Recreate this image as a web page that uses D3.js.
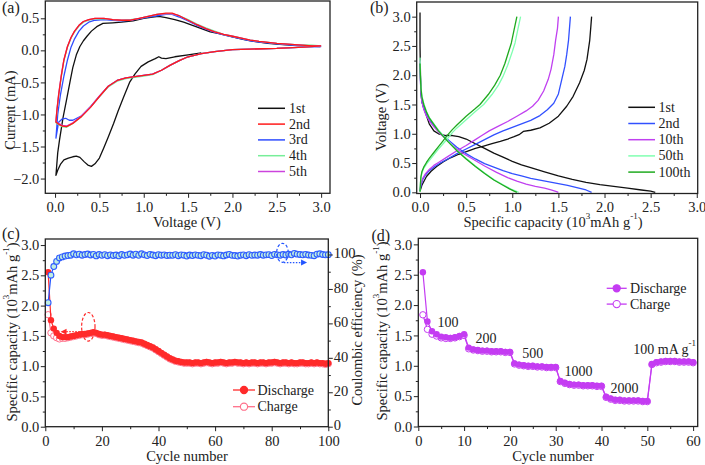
<!DOCTYPE html>
<html>
<head>
<meta charset="utf-8">
<script src="https://cdn.jsdelivr.net/npm/d3@7"></script>
<style>
  body { margin: 0; background: #fff; }
  svg text { font-family: "Liberation Serif", "Times New Roman", serif; fill: #222; }
</style>
</head>
<body>
<script>
// ---------- data ----------
// (a) cyclic voltammetry, [voltage V, current mA]
const cv1 = [[1.65,-0.04],[1.5,-0.07],[1.35,-0.1],[1.25,-0.13],[1.2,-0.12],[1.17,-0.1],[1.13,-0.13],[1.05,-0.18],[0.97,-0.25],[0.9,-0.37],[0.84,-0.5],[0.77,-0.74],[0.71,-0.95],[0.66,-1.14],[0.6,-1.35],[0.55,-1.52],[0.5,-1.68],[0.45,-1.77],[0.41,-1.81],[0.37,-1.79],[0.33,-1.74],[0.28,-1.67],[0.24,-1.65],[0.2,-1.66],[0.15,-1.68],[0.1,-1.71],[0.06,-1.78],[0.03,-1.87],[0.01,-1.95],
  [0.03,-1.6],[0.05,-1.4],[0.09,-1.05],[0.13,-0.77],[0.17,-0.48],[0.2,-0.27],[0.24,-0.07],[0.28,0.06],[0.32,0.15],[0.36,0.22],[0.41,0.3],[0.47,0.37],[0.54,0.42],[0.65,0.43],[0.75,0.44],[0.88,0.46],[1.0,0.5],[1.1,0.52],[1.17,0.53],[1.25,0.51],[1.35,0.48],[1.45,0.44],[1.55,0.39],[1.65,0.34],[1.75,0.29],[1.85,0.26],[2.0,0.21],[2.12,0.17],[2.24,0.14],[2.4,0.11],[2.57,0.09],[2.8,0.07],[2.99,0.06]];
const cv2 = [[3.0,0.07],[2.8,0.05],[2.5,0.03],[2.2,0.02],[2.0,0.01],[1.8,-0.02],[1.65,-0.05],[1.5,-0.1],[1.4,-0.16],[1.3,-0.23],[1.2,-0.31],[1.1,-0.37],[1.0,-0.39],[0.9,-0.41],[0.8,-0.43],[0.7,-0.47],[0.6,-0.56],[0.5,-0.72],[0.4,-0.89],[0.3,-1.03],[0.2,-1.14],[0.13,-1.19],[0.08,-1.18],[0.04,-1.15],[0.01,-1.12],
  [0.02,-0.95],[0.04,-0.7],[0.07,-0.4],[0.1,-0.15],[0.14,0.06],[0.18,0.2],[0.22,0.3],[0.27,0.39],[0.32,0.45],[0.38,0.48],[0.45,0.5],[0.55,0.5],[0.65,0.48],[0.75,0.47],[0.85,0.47],[0.95,0.5],[1.05,0.53],[1.15,0.56],[1.25,0.58],[1.32,0.58],[1.4,0.54],[1.5,0.47],[1.6,0.4],[1.7,0.34],[1.8,0.29],[1.9,0.25],[2.0,0.22],[2.1,0.19],[2.2,0.16],[2.3,0.14],[2.5,0.11],[2.7,0.09],[2.9,0.07],[3.0,0.07]];
const cv3 = [[3.0,0.06],[2.8,0.05],[2.5,0.03],[2.2,0.02],[2.0,0.01],[1.8,-0.02],[1.65,-0.05],[1.5,-0.1],[1.4,-0.16],[1.3,-0.23],[1.2,-0.31],[1.1,-0.37],[1.0,-0.39],[0.9,-0.41],[0.8,-0.43],[0.7,-0.47],[0.6,-0.56],[0.5,-0.72],[0.4,-0.88],[0.3,-1.02],[0.2,-1.09],[0.16,-1.09],[0.12,-1.06],[0.08,-1.07],[0.04,-1.12],[0.01,-1.37],
  [0.03,-1.0],[0.06,-0.7],[0.1,-0.4],[0.14,-0.15],[0.18,0.05],[0.22,0.18],[0.27,0.3],[0.32,0.38],[0.38,0.44],[0.45,0.47],[0.55,0.48],[0.65,0.47],[0.75,0.46],[0.85,0.47],[0.95,0.49],[1.05,0.52],[1.15,0.54],[1.25,0.56],[1.32,0.56],[1.4,0.52],[1.5,0.46],[1.6,0.39],[1.7,0.33],[1.8,0.28],[1.9,0.24],[2.0,0.21],[2.1,0.18],[2.2,0.15],[2.3,0.13],[2.5,0.1],[2.7,0.08],[2.9,0.07],[3.0,0.06]];
const cv4 = [[3.0,0.07],[2.8,0.05],[2.5,0.03],[2.2,0.02],[2.0,0.01],[1.8,-0.02],[1.65,-0.05],[1.5,-0.1],[1.4,-0.16],[1.3,-0.23],[1.2,-0.31],[1.1,-0.38],[1.0,-0.4],[0.9,-0.42],[0.8,-0.44],[0.7,-0.48],[0.6,-0.57],[0.5,-0.72],[0.4,-0.88],[0.3,-1.03],[0.2,-1.14],[0.13,-1.2],[0.08,-1.19],[0.04,-1.16],[0.01,-1.13],
  [0.02,-0.96],[0.04,-0.72],[0.07,-0.42],[0.1,-0.16],[0.14,0.05],[0.18,0.19],[0.22,0.29],[0.27,0.38],[0.32,0.44],[0.38,0.47],[0.45,0.49],[0.55,0.49],[0.65,0.48],[0.75,0.47],[0.85,0.48],[0.95,0.5],[1.05,0.53],[1.15,0.56],[1.25,0.57],[1.32,0.57],[1.4,0.54],[1.5,0.48],[1.6,0.41],[1.7,0.35],[1.8,0.3],[1.9,0.25],[2.0,0.22],[2.1,0.19],[2.2,0.16],[2.3,0.14],[2.5,0.11],[2.7,0.09],[2.9,0.08],[3.0,0.07]];
const cv5 = [[3.0,0.07],[2.8,0.05],[2.5,0.03],[2.2,0.02],[2.0,0.01],[1.8,-0.02],[1.65,-0.05],[1.5,-0.1],[1.4,-0.16],[1.3,-0.23],[1.2,-0.31],[1.1,-0.37],[1.0,-0.39],[0.9,-0.41],[0.8,-0.43],[0.7,-0.47],[0.6,-0.56],[0.5,-0.71],[0.4,-0.88],[0.3,-1.02],[0.2,-1.13],[0.13,-1.18],[0.08,-1.17],[0.04,-1.14],[0.01,-1.11],
  [0.02,-0.94],[0.04,-0.69],[0.07,-0.39],[0.1,-0.14],[0.14,0.06],[0.18,0.2],[0.22,0.3],[0.27,0.39],[0.32,0.45],[0.38,0.48],[0.45,0.5],[0.55,0.5],[0.65,0.48],[0.75,0.47],[0.85,0.47],[0.95,0.5],[1.05,0.53],[1.15,0.56],[1.25,0.57],[1.32,0.57],[1.4,0.54],[1.5,0.47],[1.6,0.4],[1.7,0.34],[1.8,0.29],[1.9,0.25],[2.0,0.22],[2.1,0.19],[2.2,0.16],[2.3,0.14],[2.5,0.11],[2.7,0.09],[2.9,0.07],[3.0,0.07]];
const cvNames = ["1st", "2nd", "3rd", "4th", "5th"];
const cvColors = ["#111111", "#ff1a1a", "#2f4dff", "#77ee99", "#cc44dd"];

// (b) charge / discharge profiles, [capacity 10^3 mAh/g, voltage V]
const dis1 = [[0,3.07],[0,2.5],[0.005,2.0],[0.01,1.7],[0.02,1.55],[0.05,1.4],[0.1,1.17],[0.15,1.05],[0.2,1.0],[0.28,0.97],[0.35,0.97],[0.42,0.95],[0.5,0.91],[0.6,0.83],[0.7,0.75],[0.8,0.67],[0.9,0.6],[1.0,0.53],[1.1,0.47],[1.2,0.42],[1.35,0.35],[1.5,0.28],[1.65,0.22],[1.8,0.17],[1.95,0.13],[2.1,0.1],[2.25,0.07],[2.4,0.04],[2.5,0.02],[2.55,0.0]];
const ch1 = [[0,0.02],[0.02,0.12],[0.07,0.27],[0.12,0.36],[0.18,0.44],[0.25,0.52],[0.33,0.59],[0.42,0.65],[0.51,0.7],[0.6,0.75],[0.69,0.79],[0.78,0.83],[0.87,0.87],[0.95,0.91],[1.02,0.95],[1.08,0.99],[1.12,1.04],[1.2,1.06],[1.3,1.1],[1.4,1.18],[1.5,1.3],[1.59,1.47],[1.66,1.64],[1.73,1.87],[1.78,2.08],[1.81,2.27],[1.84,2.6],[1.85,2.8],[1.86,3.0]];
const dis2 = [[0,2.2],[0.005,1.9],[0.01,1.7],[0.02,1.55],[0.04,1.43],[0.07,1.33],[0.1,1.24],[0.15,1.14],[0.2,1.05],[0.25,0.97],[0.3,0.9],[0.4,0.77],[0.5,0.66],[0.6,0.57],[0.7,0.49],[0.8,0.43],[0.9,0.37],[1.0,0.32],[1.1,0.28],[1.2,0.24],[1.3,0.21],[1.4,0.18],[1.5,0.15],[1.6,0.12],[1.7,0.08],[1.8,0.04],[1.86,0.0]];
const ch2 = [[0,0.03],[0.01,0.12],[0.03,0.22],[0.06,0.3],[0.1,0.37],[0.16,0.44],[0.22,0.5],[0.3,0.57],[0.4,0.66],[0.5,0.74],[0.6,0.82],[0.7,0.9],[0.8,0.98],[0.9,1.05],[1.0,1.11],[1.1,1.17],[1.2,1.23],[1.3,1.31],[1.38,1.41],[1.45,1.52],[1.5,1.68],[1.54,1.95],[1.57,2.15],[1.59,2.35],[1.61,2.6],[1.62,2.8],[1.63,3.0]];
const dis10 = [[0,2.25],[0.005,1.9],[0.01,1.7],[0.02,1.55],[0.04,1.42],[0.07,1.3],[0.11,1.2],[0.16,1.1],[0.22,1.0],[0.3,0.88],[0.36,0.79],[0.45,0.68],[0.58,0.56],[0.7,0.45],[0.83,0.34],[0.95,0.25],[1.05,0.19],[1.15,0.14],[1.25,0.1],[1.35,0.07],[1.42,0.04],[1.48,0.01],[1.5,0.0]];
const ch10 = [[0,0.04],[0.01,0.14],[0.03,0.24],[0.06,0.32],[0.1,0.39],[0.15,0.46],[0.2,0.51],[0.3,0.61],[0.4,0.71],[0.5,0.8],[0.6,0.9],[0.67,0.97],[0.75,1.05],[0.85,1.13],[0.95,1.21],[1.05,1.3],[1.15,1.39],[1.22,1.47],[1.28,1.57],[1.34,1.73],[1.39,1.93],[1.42,2.1],[1.45,2.35],[1.47,2.6],[1.49,2.8],[1.5,3.0]];
const dis50 = [[0,2.3],[0.005,2.0],[0.01,1.8],[0.02,1.65],[0.04,1.52],[0.07,1.38],[0.1,1.28],[0.14,1.19],[0.2,1.06],[0.25,0.97],[0.3,0.88],[0.4,0.72],[0.5,0.58],[0.6,0.45],[0.7,0.33],[0.8,0.22],[0.9,0.13],[0.98,0.06],[1.04,0.02],[1.07,0.0]];
const ch50 = [[0,0.01],[0.005,0.15],[0.01,0.25],[0.02,0.33],[0.04,0.41],[0.07,0.48],[0.1,0.54],[0.15,0.64],[0.2,0.74],[0.25,0.83],[0.3,0.92],[0.35,1.02],[0.4,1.1],[0.5,1.24],[0.6,1.38],[0.69,1.5],[0.78,1.67],[0.85,1.83],[0.9,1.98],[0.95,2.17],[1.0,2.4],[1.03,2.55],[1.06,2.78],[1.09,3.0]];
const dis100 = [[0,2.2],[0.005,1.95],[0.01,1.78],[0.02,1.63],[0.04,1.5],[0.07,1.37],[0.1,1.27],[0.14,1.18],[0.2,1.05],[0.25,0.96],[0.3,0.87],[0.4,0.71],[0.5,0.57],[0.6,0.44],[0.7,0.32],[0.8,0.21],[0.9,0.12],[0.97,0.06],[1.02,0.02],[1.05,0.0]];
const ch100 = [[0,0.01],[0.005,0.16],[0.01,0.27],[0.02,0.35],[0.04,0.43],[0.07,0.51],[0.1,0.58],[0.15,0.68],[0.2,0.78],[0.25,0.88],[0.3,0.98],[0.35,1.07],[0.4,1.15],[0.5,1.3],[0.6,1.43],[0.65,1.5],[0.74,1.67],[0.81,1.83],[0.87,2.0],[0.92,2.2],[0.96,2.4],[0.99,2.55],[1.02,2.78],[1.05,3.0]];
const gcdNames = ["1st", "2nd", "10th", "50th", "100th"];
const gcdColors = ["#111111", "#3150ff", "#c040f0", "#80ffb0", "#1faa1f"];

// (c) cycling at 100 mA/g, cycles 1..100
const cycDischarge = [2.55,1.76,1.62,1.55,1.50,1.48,1.48,1.48,1.49,1.50,
  1.51,1.52,1.53,1.53,1.54,1.55,1.56,1.55,1.53,1.52,
  1.52,1.51,1.50,1.49,1.48,1.47,1.46,1.45,1.44,1.43,
  1.42,1.41,1.40,1.39,1.37,1.35,1.33,1.31,1.28,1.25,
  1.22,1.19,1.16,1.13,1.11,1.09,1.08,1.07,1.06,1.06,
  1.06,1.05,1.06,1.06,1.05,1.06,1.07,1.06,1.05,1.06,
  1.06,1.07,1.06,1.05,1.06,1.06,1.07,1.06,1.06,1.05,
  1.06,1.05,1.06,1.06,1.05,1.06,1.06,1.05,1.06,1.06,
  1.07,1.06,1.05,1.06,1.06,1.05,1.06,1.05,1.05,1.06,
  1.06,1.05,1.05,1.06,1.05,1.06,1.05,1.05,1.04,1.05];
const cycCharge = [1.85,1.55,1.50,1.47,1.45,1.46,1.46,1.47,1.48,1.49,
  1.50,1.51,1.52,1.52,1.53,1.54,1.55,1.54,1.52,1.51,
  1.51,1.50,1.49,1.48,1.47,1.46,1.45,1.44,1.43,1.42,
  1.41,1.40,1.39,1.38,1.36,1.34,1.32,1.30,1.27,1.24,
  1.21,1.18,1.15,1.12,1.10,1.08,1.07,1.06,1.05,1.05,
  1.05,1.04,1.05,1.05,1.04,1.05,1.06,1.05,1.04,1.05,
  1.05,1.06,1.05,1.04,1.05,1.05,1.06,1.05,1.05,1.04,
  1.05,1.04,1.05,1.05,1.04,1.05,1.05,1.04,1.05,1.05,
  1.06,1.05,1.04,1.05,1.05,1.04,1.05,1.04,1.04,1.05,
  1.05,1.04,1.04,1.05,1.04,1.05,1.04,1.04,1.03,1.04];
const cycCE = [72,88,93,96,98,98.6,99.1,99.4,99.6,100.4,
  99.8,100.2,99.6,100.0,100.3,99.7,100.1,99.2,100.0,99.5,
  99.9,99.3,99.8,99.4,99.7,99.2,100.0,99.5,99.8,100.3,
  99.6,100.2,99.5,100.4,99.8,99.4,100.1,99.7,99.3,99.9,
  99.6,99.8,99.4,99.6,99.5,99.9,99.3,99.8,99.6,99.1,
  99.7,99.4,99.8,99.5,99.3,99.9,99.6,99.0,99.5,99.1,
  99.8,99.6,99.2,99.7,100.1,99.5,99.4,99.1,99.6,99.8,
  99.3,99.9,99.5,99.7,99.6,100.0,99.6,99.8,99.9,99.4,
  100.1,99.8,99.6,100.0,99.7,100.2,99.8,100.6,100.2,100.0,
  99.8,100.1,99.7,99.5,99.3,100.2,100.4,100.0,99.8,99.9];

// (d) rate capability, cycles 1..60
const rateDischarge = [2.54,1.73,1.57,1.52,1.48,1.47,1.46,1.47,1.49,1.52,
  1.30,1.27,1.26,1.25,1.25,1.24,1.24,1.24,1.23,1.23,
  1.04,1.02,1.01,1.00,1.00,0.99,0.99,0.98,0.98,0.98,
  0.75,0.72,0.70,0.69,0.69,0.68,0.68,0.68,0.67,0.67,
  0.49,0.46,0.44,0.44,0.43,0.43,0.43,0.43,0.42,0.42,
  1.03,1.06,1.07,1.08,1.08,1.08,1.07,1.07,1.07,1.06];
const rateCharge = [1.84,1.60,1.52,1.49,1.46,1.45,1.45,1.46,1.48,1.50,
  1.28,1.26,1.25,1.24,1.24,1.23,1.23,1.23,1.22,1.22,
  1.03,1.01,1.00,0.99,0.99,0.98,0.98,0.97,0.97,0.97,
  0.74,0.71,0.69,0.68,0.68,0.67,0.67,0.67,0.66,0.66,
  0.48,0.45,0.43,0.43,0.42,0.42,0.42,0.42,0.41,0.41,
  1.02,1.05,1.06,1.07,1.07,1.07,1.06,1.06,1.06,1.05];
const rateLabels = ["100", "200", "500", "1000", "2000"];
const rateLabelPos = [[6.5, 1.72], [14.8, 1.45], [25, 1.2], [35, 0.91], [45, 0.63]];

// tick values
const ticksA_x = [0, 0.5, 1.0, 1.5, 2.0, 2.5, 3.0];
const ticksA_y = [-2.0, -1.5, -1.0, -0.5, 0.0, 0.5];
const ticksB = [0, 0.5, 1.0, 1.5, 2.0, 2.5, 3.0];
const ticksCap = [0, 0.5, 1.0, 1.5, 2.0, 2.5, 3.0];
const ticksC_x = [0, 20, 40, 60, 80, 100];
const ticksCE = [0, 20, 40, 60, 80, 100];
const ticksD_x = [0, 10, 20, 30, 40, 50, 60];

// ---------- helpers ----------
const svg = d3.select("body").append("svg").attr("width", 705).attr("height", 465);
const TICK_FS = 14.5, TITLE_FS = 14.5;

function halfSteps(t) {
  // minor ticks halfway between the major ones
  const out = [];
  for (let i = 0; i < t.length - 1; i++) out.push((t[i] + t[i + 1]) / 2);
  return out;
}

function styleTicks(sel) {
  sel.selectAll(".domain").remove();
  sel.selectAll(".tick line").attr("stroke", "#222").attr("stroke-width", 1);
  sel.selectAll(".tick text").style("font-size", TICK_FS + "px")
    .style("font-family", "'Liberation Serif', serif").attr("fill", "#222");
}

function drawAxes(g, x, y, o) {
  const x0 = x.range()[0], x1 = x.range()[1];
  const y0 = y.range()[0], y1 = y.range()[1];
  const bottom = g.append("g").attr("transform", `translate(0,${y0})`);
  bottom.append("g").call(d3.axisBottom(x).tickValues(halfSteps(o.xTicks)).tickSize(2.5).tickFormat(""));
  bottom.append("g").call(d3.axisBottom(x).tickValues(o.xTicks).tickSize(4.5).tickPadding(o.xPad || 3.5).tickFormat(o.xFmt));
  const left = g.append("g").attr("transform", `translate(${x0},0)`);
  left.append("g").call(d3.axisLeft(y).tickValues(halfSteps(o.yTicks)).tickSize(2.5).tickFormat(""));
  left.append("g").call(d3.axisLeft(y).tickValues(o.yTicks).tickSize(4.5).tickPadding(1.5).tickFormat(o.yFmt));
  styleTicks(g);
  g.append("rect").attr("x", x0).attr("y", y1).attr("width", x1 - x0).attr("height", y0 - y1)
    .attr("fill", "none").attr("stroke", "#222").attr("stroke-width", 1.3);
}

function capTitle(text, size) {
  // "Specific capacity (10^3 mAh g^-1)"
  text.style("font-size", size + "px");
  text.append("tspan").text("Specific capacity (10");
  text.append("tspan").text("3").attr("dy", -6).style("font-size", (size * 0.62) + "px");
  text.append("tspan").text("mAh g").attr("dy", 6);
  text.append("tspan").text("-1").attr("dy", -6).style("font-size", (size * 0.62) + "px");
  text.append("tspan").text(")").attr("dy", 6);
}

function vTitle(cx, cy, size) {
  return svg.append("text").attr("transform", `translate(${cx},${cy}) rotate(-90)`)
    .attr("text-anchor", "middle").attr("dominant-baseline", "central").style("font-size", size + "px");
}

function hTitle(cx, cy, size) {
  return svg.append("text").attr("x", cx).attr("y", cy)
    .attr("text-anchor", "middle").attr("dominant-baseline", "central").style("font-size", size + "px");
}

const fmt1 = d3.format(".1f");
const fmt0 = d3.format("d");

// ---------- (a) CV ----------
{
  const g = svg.append("g");
  const x = d3.scaleLinear().domain([-0.11, 3.1]).range([45.3, 330]);
  const y = d3.scaleLinear().domain([-2.23, 0.77]).range([193.3, 1]);
  const line = d3.line().x(d => x(d[0])).y(d => y(d[1]));
  const curves = [cv1, cv2, cv3, cv4, cv5];
  [0, 2, 3, 4, 1].forEach(i => {
    g.append("path").attr("d", line(curves[i])).attr("fill", "none")
      .attr("stroke", cvColors[i]).attr("stroke-width", 1.3).attr("stroke-linejoin", "round");
  });
  drawAxes(g, x, y, { xTicks: ticksA_x, yTicks: ticksA_y, xFmt: fmt1, yFmt: fmt1 });
  const leg = g.append("g");
  cvNames.forEach((n, i) => {
    const yy = 108.3 + i * 15.8;
    leg.append("line").attr("x1", 258).attr("x2", 285).attr("y1", yy).attr("y2", yy)
      .attr("stroke", cvColors[i]).attr("stroke-width", 1.5);
    leg.append("text").attr("x", 289).attr("y", yy).attr("dominant-baseline", "central")
      .style("font-size", "14px").text(n);
  });
  vTitle(10, 110, TITLE_FS).text("Current (mA)");
  hTitle(187, 221.5, TITLE_FS).text("Voltage (V)");
  svg.append("text").attr("x", 2).attr("y", 13).style("font-size", "16px").text("(a)");
}

// ---------- (b) charge/discharge ----------
{
  const g = svg.append("g");
  const x = d3.scaleLinear().domain([-0.036, 3.01]).range([416.7, 697.7]);
  const y = d3.scaleLinear().domain([-0.02, 3.25]).range([193.5, 2]);
  const line = d3.line().x(d => x(d[0])).y(d => y(d[1]));
  const pairs = [[dis1, ch1], [dis2, ch2], [dis10, ch10], [dis50, ch50], [dis100, ch100]];
  pairs.forEach((p, i) => {
    p.forEach(c => g.append("path").attr("d", line(c)).attr("fill", "none")
      .attr("stroke", gcdColors[i]).attr("stroke-width", 1.3).attr("stroke-linejoin", "round"));
  });
  drawAxes(g, x, y, { xTicks: ticksB, yTicks: ticksB, xFmt: fmt1, yFmt: fmt1 });
  gcdNames.forEach((n, i) => {
    const yy = 107.3 + i * 16.2;
    g.append("line").attr("x1", 628.3).attr("x2", 655).attr("y1", yy).attr("y2", yy)
      .attr("stroke", gcdColors[i]).attr("stroke-width", 1.5);
    g.append("text").attr("x", 658.5).attr("y", yy).attr("dominant-baseline", "central")
      .style("font-size", "14px").text(n);
  });
  vTitle(381, 117, TITLE_FS).text("Voltage (V)");
  capTitle(hTitle(553, 222, TITLE_FS), TITLE_FS);
  svg.append("text").attr("x", 370).attr("y", 13).style("font-size", "16px").text("(b)");
}

// ---------- (c) cycling ----------
{
  const g = svg.append("g");
  const x = d3.scaleLinear().domain([0, 100]).range([45.3, 328.3]);
  const y = d3.scaleLinear().domain([0, 3.1]).range([426.7, 239]);
  const yr = d3.scaleLinear().domain([0, 109]).range([426.7, 239]);
  const cyc = cycDischarge.map((d, i) => i + 1);
  const red = "#ff2a2a", pink = "#ff6f8a", blue = "#2255ff";
  const ceLine = d3.line().x((d, i) => x(i + 1)).y(d => yr(d));
  const capLine = d3.line().x((d, i) => x(i + 1)).y(d => y(d));

  g.append("path").attr("d", capLine(cycCharge)).attr("fill", "none").attr("stroke", pink).attr("stroke-width", 1.2);
  g.selectAll(".chg").data(cycCharge).join("circle").attr("cx", (d, i) => x(cyc[i])).attr("cy", d => y(d))
    .attr("r", 3.2).attr("fill", "#fff").attr("stroke", pink).attr("stroke-width", 1);
  g.append("path").attr("d", capLine(cycDischarge)).attr("fill", "none").attr("stroke", red).attr("stroke-width", 1.2);
  g.selectAll(".dis").data(cycDischarge).join("circle").attr("cx", (d, i) => x(cyc[i])).attr("cy", d => y(d))
    .attr("r", 3.2).attr("fill", red);
  g.append("path").attr("d", ceLine(cycCE)).attr("fill", "none").attr("stroke", blue).attr("stroke-width", 1.2);
  g.selectAll(".ce").data(cycCE).join("circle").attr("cx", (d, i) => x(cyc[i])).attr("cy", d => yr(d))
    .attr("r", 2.9).attr("fill", "#bfeee0").attr("stroke", "#2f5cff").attr("stroke-width", 1.1);

  drawAxes(g, x, y, { xTicks: ticksC_x, yTicks: ticksCap, xFmt: fmt0, yFmt: fmt1, xPad: 5 });
  const right = g.append("g").attr("transform", "translate(328.3,0)");
  right.append("g").call(d3.axisRight(yr).tickValues(halfSteps(ticksCE)).tickSize(2.5).tickFormat(""));
  right.append("g").call(d3.axisRight(yr).tickValues(ticksCE).tickSize(4.5).tickPadding(1).tickFormat(fmt0));
  styleTicks(right);
  right.selectAll(".tick text").attr("dy", "0.22em");

  // annotations: dashed ellipses with dotted arrows
  g.append("ellipse").attr("cx", x(15.2)).attr("cy", y(1.65)).attr("rx", 6.7).attr("ry", 14.3)
    .attr("fill", "none").attr("stroke", red).attr("stroke-width", 1.2).attr("stroke-dasharray", "3,2");
  g.append("line").attr("x1", x(14.3)).attr("x2", x(6.2)).attr("y1", y(1.57)).attr("y2", y(1.57))
    .attr("stroke", red).attr("stroke-width", 1.2).attr("stroke-dasharray", "1.5,1.5");
  g.append("path").attr("d", `M${x(5.4)},${y(1.57)} l6,-3 l0,6 z`).attr("fill", red);
  g.append("ellipse").attr("cx", x(83.8)).attr("cy", yr(101)).attr("rx", 5.8).attr("ry", 9.5)
    .attr("fill", "none").attr("stroke", blue).attr("stroke-width", 1.2).attr("stroke-dasharray", "3,2");
  g.append("line").attr("x1", x(84.3)).attr("x2", x(91.5)).attr("y1", yr(95.3)).attr("y2", yr(95.3))
    .attr("stroke", blue).attr("stroke-width", 1.2).attr("stroke-dasharray", "1.5,1.5");
  g.append("path").attr("d", `M${x(92.5)},${yr(95.3)} l-6,-3 l0,6 z`).attr("fill", blue);

  // legend
  [["Discharge", true], ["Charge", false]].forEach(([n, filled], i) => {
    const yy = 390 + i * 16.7;
    g.append("line").attr("x1", 233).attr("x2", 255).attr("y1", yy).attr("y2", yy)
      .attr("stroke", filled ? red : pink).attr("stroke-width", 1.3);
    g.append("circle").attr("cx", 244).attr("cy", yy).attr("r", 3.6)
      .attr("fill", filled ? red : "#fff").attr("stroke", filled ? red : pink).attr("stroke-width", 1.1);
    g.append("text").attr("x", 257.5).attr("y", yy).attr("dominant-baseline", "central")
      .style("font-size", "14px").text(n);
  });
  capTitle(vTitle(12, 332, TITLE_FS), TITLE_FS);
  hTitle(187, 456, TITLE_FS).text("Cycle number");
  vTitle(357, 330, TITLE_FS).text("Coulombic efficiency (%)");
  svg.append("text").attr("x", 2).attr("y", 239).style("font-size", "16px").text("(c)");
}

// ---------- (d) rate ----------
{
  const g = svg.append("g");
  const x = d3.scaleLinear().domain([0, 61]).range([418.3, 697.7]);
  const y = d3.scaleLinear().domain([0, 3.1]).range([426.5, 238.3]);
  const purple = "#c43cf2";
  const line = d3.line().x((d, i) => x(i + 1)).y(d => y(d));
  g.append("path").attr("d", line(rateCharge)).attr("fill", "none").attr("stroke", purple).attr("stroke-width", 1.2);
  g.selectAll(".chg").data(rateCharge).join("circle").attr("cx", (d, i) => x(i + 1)).attr("cy", d => y(d))
    .attr("r", 3.2).attr("fill", "#fff").attr("stroke", purple).attr("stroke-width", 1);
  g.append("path").attr("d", line(rateDischarge)).attr("fill", "none").attr("stroke", purple).attr("stroke-width", 1.2);
  g.selectAll(".dis").data(rateDischarge).join("circle").attr("cx", (d, i) => x(i + 1)).attr("cy", d => y(d))
    .attr("r", 3.2).attr("fill", purple);
  drawAxes(g, x, y, { xTicks: ticksD_x, yTicks: ticksCap, xFmt: fmt0, yFmt: fmt1, xPad: 5 });

  rateLabels.forEach((t, i) => {
    g.append("text").attr("x", x(rateLabelPos[i][0])).attr("y", y(rateLabelPos[i][1]))
      .attr("text-anchor", "middle").attr("dominant-baseline", "central").style("font-size", "14px").text(t);
  });
  const last = g.append("text").attr("x", x(53.8)).attr("y", y(1.27)).attr("text-anchor", "middle")
    .attr("dominant-baseline", "central").style("font-size", "14px");
  last.append("tspan").text("100 mA g");
  last.append("tspan").text("-1").attr("dy", -6).style("font-size", "9px");

  [["Discharge", true], ["Charge", false]].forEach(([n, filled], i) => {
    const yy = 288.3 + i * 15.8;
    g.append("line").attr("x1", 606.7).attr("x2", 626.7).attr("y1", yy).attr("y2", yy)
      .attr("stroke", purple).attr("stroke-width", 1.3);
    g.append("circle").attr("cx", 616.7).attr("cy", yy).attr("r", 3.6)
      .attr("fill", filled ? purple : "#fff").attr("stroke", purple).attr("stroke-width", 1.1);
    g.append("text").attr("x", 630).attr("y", yy).attr("dominant-baseline", "central")
      .style("font-size", "14px").text(n);
  });
  capTitle(vTitle(382, 331, TITLE_FS), TITLE_FS);
  hTitle(553, 456, TITLE_FS).text("Cycle number");
  svg.append("text").attr("x", 371.5).attr("y", 241).style("font-size", "16px").text("(d)");
}
</script>
</body>
</html>
